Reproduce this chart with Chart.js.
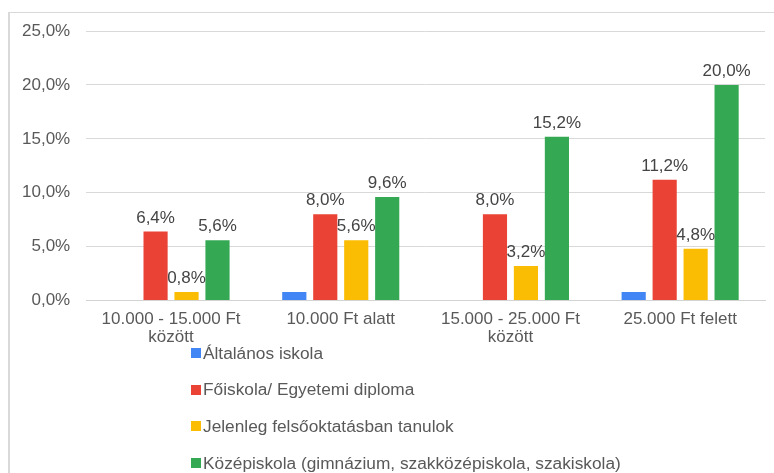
<!DOCTYPE html>
<html>
<head>
<meta charset="utf-8">
<script src="https://cdn.jsdelivr.net/npm/chart.js@4.4.1/dist/chart.umd.min.js"></script>
<style>
  body { margin: 0; background: #fff; overflow: hidden; font-family: "Liberation Sans", Arial, sans-serif; }
  #frame { position: absolute; left: 8px; top: 12px; width: 900px; height: 600px;
           border-left: 2px solid #d9d9d9; border-top: 1px solid #d9d9d9; }
  #wrap { position: absolute; left: 0; top: 0; width: 774px; height: 473px; }
  #legend { position: absolute; left: 191px; top: 343px; }
  #legend .item { display: flex; align-items: center; height: 20px; margin-bottom: 16.7px;
                  font-size: 17.3px; color: #595959; white-space: nowrap; }
  #legend .box { width: 10px; height: 10px; margin-right: 2px; }
</style>
</head>
<body>
<div id="frame"></div>
<div id="wrap"><canvas id="chart" width="774" height="473"></canvas></div>
<div id="legend"></div>
<script>
// kategóriák (havi összeg)
const categories = [
  ['10.000 - 15.000 Ft', 'között'],
  '10.000 Ft alatt',
  ['15.000 - 25.000 Ft', 'között'],
  '25.000 Ft felett'
];
const seriesNames = [
  'Általános iskola',
  'Főiskola/ Egyetemi diploma',
  'Jelenleg felsőoktatásban tanulok',
  'Középiskola (gimnázium, szakközépiskola, szakiskola)'
];
const altalanos = [0, 0.8, 0, 0.8];
const foiskola = [6.4, 8.0, 8.0, 11.2];
const jelenleg = [0.8, 5.6, 3.2, 4.8];
const kozepiskola = [5.6, 9.6, 15.2, 20.0];
const colors = ['#4285f4', '#ea4335', '#fbbc04', '#34a853'];
const showLabels = [false, true, true, true];

function pct(v) {
  return v.toFixed(1).replace('.', ',') + '%';
}

// értékcímkék az oszlopok fölé
const barLabels = {
  id: 'barLabels',
  afterDatasetsDraw(chart) {
    const ctx = chart.ctx;
    ctx.save();
    ctx.font = '17px "Liberation Sans", Arial, sans-serif';
    ctx.fillStyle = '#444444';
    ctx.textAlign = 'center';
    ctx.textBaseline = 'alphabetic';
    chart.data.datasets.forEach((ds, i) => {
      if (!showLabels[i]) return;
      chart.getDatasetMeta(i).data.forEach((bar, j) => {
        ctx.fillText(pct(ds.data[j]), bar.x, bar.y - 9);
      });
    });
    ctx.restore();
  }
};

// jelmagyarázat HTML-ben, egymás alatt
const htmlLegend = {
  id: 'htmlLegend',
  afterUpdate(chart) {
    const box = document.getElementById('legend');
    box.innerHTML = '';
    chart.options.plugins.legend.labels.generateLabels(chart).forEach(item => {
      const row = document.createElement('div');
      row.className = 'item';
      const sq = document.createElement('span');
      sq.className = 'box';
      sq.style.background = item.fillStyle;
      const txt = document.createElement('span');
      txt.textContent = item.text;
      row.appendChild(sq);
      row.appendChild(txt);
      box.appendChild(row);
    });
  }
};

const values = [altalanos, foiskola, jelenleg, kozepiskola];

new Chart(document.getElementById('chart'), {
  type: 'bar',
  data: {
    labels: categories,
    datasets: values.map((v, i) => ({
      label: seriesNames[i],
      data: v,
      backgroundColor: colors[i],
      barPercentage: 0.78,
      categoryPercentage: 0.73
    }))
  },
  options: {
    responsive: false,
    animation: false,
    layout: { padding: { left: 6, right: 9, top: 31, bottom: 117 } },
    plugins: {
      legend: { display: false },
      tooltip: { enabled: false }
    },
    scales: {
      x: {
        grid: { display: false, drawTicks: false },
        border: { display: true, color: '#d3d3d3' },
        ticks: {
          color: '#595959',
          padding: 9,
          maxRotation: 0,
          font: { family: '"Liberation Sans", Arial, sans-serif', size: 17, lineHeight: 1.1 }
        }
      },
      y: {
        min: 0,
        max: 25,
        grid: { color: '#d9d9d9', drawTicks: false },
        border: { display: false },
        ticks: {
          stepSize: 5,
          padding: 16,
          color: '#595959',
          font: { family: '"Liberation Sans", Arial, sans-serif', size: 17 },
          callback: v => pct(v)
        }
      }
    }
  },
  plugins: [barLabels, htmlLegend]
});
</script>
</body>
</html>
